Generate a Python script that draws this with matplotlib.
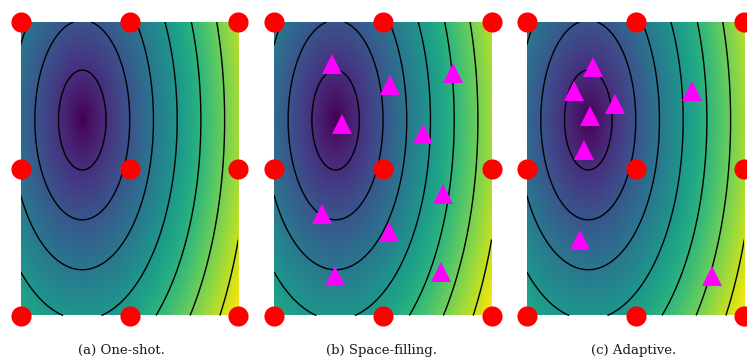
import numpy as np
import matplotlib
matplotlib.use("Agg")
import matplotlib.pyplot as plt

center_x = 0.283
center_y = 0.666
scale_x = 0.109
scale_y = 0.170
contour_levels = [1, 2, 3, 4, 5, 6, 7, 8]

# Initial 3x3 grid design (red circles)
grid_x = [0.0, 0.5, 1.0, 0.0, 0.5, 1.0, 0.0, 0.5, 1.0]
grid_y = [0.0, 0.0, 0.0, 0.5, 0.5, 0.5, 1.0, 1.0, 1.0]

# Space-filling added points
sf_x = [0.267, 0.534, 0.822, 0.314, 0.685, 0.775, 0.219, 0.528, 0.282, 0.767]
sf_y = [0.858, 0.784, 0.827, 0.653, 0.619, 0.415, 0.347, 0.284, 0.134, 0.149]

# Adaptive added points
ad_x = [0.303, 0.216, 0.407, 0.292, 0.263, 0.759, 0.246, 0.852]
ad_y = [0.847, 0.766, 0.722, 0.679, 0.565, 0.766, 0.256, 0.134]

captions = ["(a) One-shot.", "(b) Space-filling.", "(c) Adaptive."]
caption_x = [121.7, 382.0, 633.5]

W, H = 747, 361
fig = plt.figure(figsize=(W / 100, H / 100), dpi=100)

n = 400
xs = np.linspace(0, 1, n)
ys = np.linspace(0, 1, n)
X, Y = np.meshgrid(xs, ys)
Z = np.sqrt(((X - center_x) / scale_x) ** 2 + ((Y - center_y) / scale_y) ** 2)

lefts_px = [20.7, 274.0, 526.7]
w_px = 217.6
top_px, bot_px = 22.0, 315.5

extra = [None, (sf_x, sf_y), (ad_x, ad_y)]

for i in range(3):
    ax = fig.add_axes([lefts_px[i] / W, 1 - bot_px / H, w_px / W, (bot_px - top_px) / H])
    ax.imshow(Z, origin="lower", extent=[0, 1, 0, 1], cmap="viridis",
              vmin=0, vmax=Z.max(), aspect="auto", interpolation="bilinear")
    ax.contour(X, Y, Z, levels=contour_levels, colors="black", linewidths=1.0)
    ax.plot(grid_x, grid_y, "o", color="red", markersize=14.5, markeredgewidth=0,
            clip_on=False, zorder=5)
    if extra[i] is not None:
        ex, ey = extra[i]
        ax.plot(ex, ey, "^", color="magenta", markersize=14, markeredgewidth=0,
                clip_on=False, zorder=6)
    ax.set_xlim(0, 1)
    ax.set_ylim(0, 1)
    ax.axis("off")
    fig.text(caption_x[i] / W, 1 - 350.5 / H, captions[i], ha="center", va="center",
             family="DejaVu Serif", fontsize=9.5, color="#1a1a1a")

fig.savefig("out.png", dpi=100)
